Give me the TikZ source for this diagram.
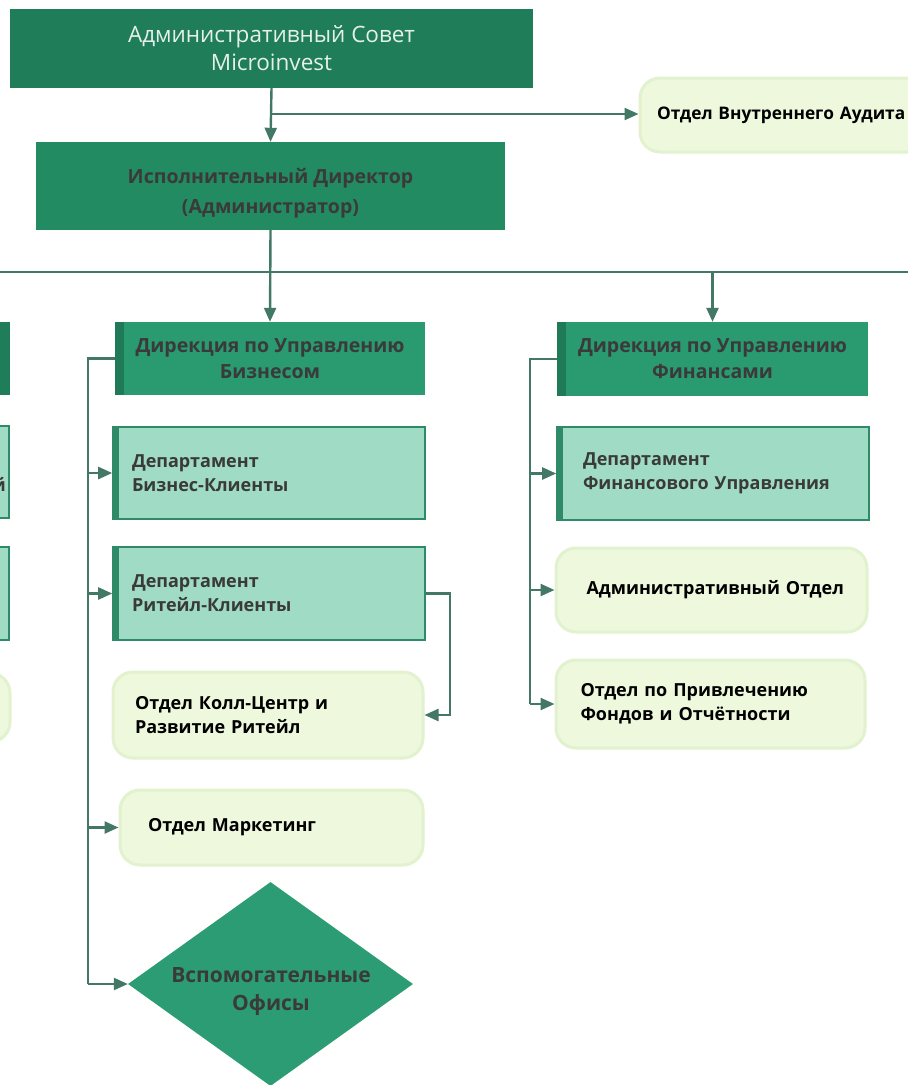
\documentclass[tikz,border=0pt]{standalone}
\usepackage{fontspec}
\setmainfont{Open Sans}
\usetikzlibrary{arrows.meta,shapes.geometric}
\definecolor{lineC}{HTML}{437866}
\definecolor{topC}{HTML}{1F7D5A}
\definecolor{idC}{HTML}{238B62}
\definecolor{dirC}{HTML}{2A9A70}
\definecolor{stripC}{HTML}{1E7A57}
\definecolor{deptC}{HTML}{9FDBC5}
\definecolor{deptB}{HTML}{2F8A68}
\definecolor{yelC}{HTML}{EEF8DC}
\definecolor{yelB}{HTML}{E2F1CE}
\definecolor{diaC}{HTML}{2C9C74}
\definecolor{txtC}{HTML}{3A3A3A}
\definecolor{topT}{HTML}{E6F0EB}
\tikzset{
  conn/.style={draw=lineC,line width=2.4pt},
  arr/.style={conn,-{Triangle[length=14pt,width=12pt]}},
  base/.style={inner sep=0pt,font=\fontsize{18}{24}\selectfont\bfseries},
  topbox/.style={base,fill=topC,text=topT,font=\fontsize{22.5}{28}\selectfont,align=center},
  idbox/.style={base,fill=idC},
  idtext/.style={base,text=txtC,align=center,font=\fontsize{19.5}{30}\selectfont\bfseries},
  dirbox/.style={base,fill=dirC,text=txtC,align=center,font=\fontsize{19.5}{26}\selectfont\bfseries,
    path picture={\fill[stripC] (path picture bounding box.north west) rectangle ([xshift=9pt]path picture bounding box.south west);}},
  deptbox/.style={base,fill=deptC,draw=deptB,line width=1.6pt,text=txtC,align=left,
    path picture={\fill[deptB] (path picture bounding box.north west) rectangle ([xshift=6pt]path picture bounding box.south west);}},
  yelbox/.style={base,fill=yelC,draw=yelB,line width=3pt,rounded corners=20pt,text=black,align=left},
  diabox/.style={base,diamond,fill=diaC,aspect=1.4},
  diatext/.style={base,text=txtC,align=center,font=\fontsize{21}{28}\selectfont\bfseries},
}
\begin{document}
\begin{tikzpicture}[x=1pt,y=-1pt]
\useasboundingbox (0,0) rectangle (908,1085);
% left partial column
\fill[stripC!90!dirC] (-300,322) rectangle (10,395);
\filldraw[fill=deptC,draw=deptB,line width=1.6pt] (-300,426) rectangle (9,518);
\filldraw[fill=deptC,draw=deptB,line width=1.6pt] (-300,547) rectangle (9,640);
\filldraw[fill=yelC,draw=yelB,line width=3pt,rounded corners=20pt] (-300,673) rectangle (10,742);
\node[base,anchor=east,text=txtC] (frag) at (6,484) {й};

% nodes
\node[topbox,minimum width=523pt,minimum height=79pt] (board) at (271.5,48.5) {Административный Совет\\Microinvest};
\node[idbox,minimum width=469pt,minimum height=88pt] (ceo) at (270.5,186) {};
\node[idtext] (ceoT) at (270.5,193) {Исполнительный Директор\\(Администратор)};
\node[yelbox,minimum width=290pt,minimum height=74pt,text width=256pt,font=\fontsize{17.3}{24}\selectfont\bfseries] (audit) at (785,115) {\mbox{Отдел Внутреннего Аудита}};

\node[dirbox,minimum width=310pt,minimum height=73pt] (bdir) at (270,358.5) {Дирекция по Управлению\\Бизнесом};
\node[deptbox,minimum width=312pt,minimum height=92pt,text width=274pt] (bc) at (269,473) {Департамент\\Бизнес-Клиенты};
\node[deptbox,minimum width=312pt,minimum height=93pt,text width=274pt] (rc) at (269,593.5) {Департамент\\Ритейл-Клиенты};
\node[yelbox,minimum width=310pt,minimum height=86pt,text width=266pt] (cc) at (268,715) {Отдел Колл-Центр и\\Развитие Ритейл};
\node[yelbox,minimum width=303pt,minimum height=75pt,text width=247pt] (mk) at (271.5,827.5) {Отдел Маркетинг};
\node[diabox,minimum width=285pt,minimum height=204pt] (sup) at (270.5,984) {};
\node[diatext] (supT) at (271,992) {Вспомогательные\\Офисы};

\node[dirbox,minimum width=311pt,minimum height=74pt] (fdir) at (712.5,359) {Дирекция по Управлению\\Финансами};
\node[deptbox,minimum width=312pt,minimum height=93pt,text width=260pt] (fm) at (713,473.5) {Департамент\\Финансового Управления};
\node[yelbox,minimum width=311pt,minimum height=84pt,text width=250pt] (adm) at (711.5,590) {\mbox{Административный Отдел}};
\node[yelbox,minimum width=309pt,minimum height=88pt,text width=260pt] (fund) at (710.5,704) {Отдел по Привлечению\\Фондов и Отчётности};

% connectors
\coordinate (hL) at (0,272);
\coordinate (hR) at (908,272);
\draw[conn] (hL) -- (hR);
\draw[arr] (board.south) -- (ceo.north);
\coordinate (br) at (board.south |- 0,114);
\draw[arr] (br) -- (audit.west |- br);
\draw[arr] (ceo.south) -- (bdir.north);
\coordinate (fr) at (fdir.north |- hL);
\draw[arr] (fr) -- (fdir.north);

\coordinate (bx) at (88,0);
\draw[conn] (bdir.west) -- (bdir.west -| bx) -- (bx |- sup.west);
\draw[arr] (bx |- bc.west) -- (bc.west);
\draw[arr] (bx |- rc.west) -- (rc.west);
\draw[arr] (bx |- mk.west) -- (mk.west);
\draw[arr] (bx |- sup.west) -- (sup.west);

\coordinate (rx) at (450,0);
\draw[arr] (rc.east) -- (rc.east -| rx) -- (rx |- cc.east) -- (cc.east);

\coordinate (fx) at (530,0);
\draw[conn] (fdir.west) -- (fdir.west -| fx) -- (fx |- fund.west);
\draw[arr] (fx |- fm.west) -- (fm.west);
\draw[arr] (fx |- adm.west) -- (adm.west);
\draw[arr] (fx |- fund.west) -- (fund.west);
\end{tikzpicture}
\end{document}
